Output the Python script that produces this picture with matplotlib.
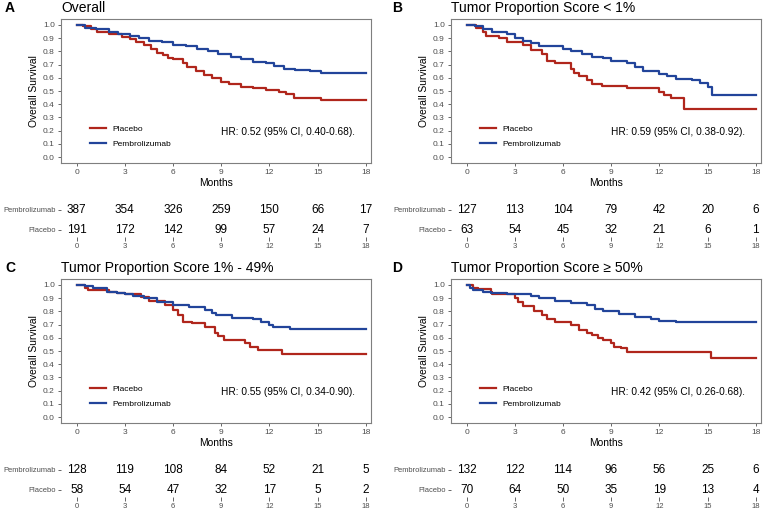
import numpy as np
import matplotlib
matplotlib.use("Agg")
import matplotlib.pyplot as plt

plt.rcParams['font.family'] = ['Liberation Sans', 'DejaVu Sans']

# --- data: (month, survival after drop) ---
titles = ["Overall", "Tumor Proportion Score < 1%",
          "Tumor Proportion Score 1% - 49%", "Tumor Proportion Score \u2265 50%"]
letters = ["A", "B", "C", "D"]
hr_texts = ["HR: 0.52 (95% CI, 0.40-0.68).", "HR: 0.59 (95% CI, 0.38-0.92).",
            "HR: 0.55 (95% CI, 0.34-0.90).", "HR: 0.42 (95% CI, 0.26-0.68)."]

placebo_a = [(0, 1.0), (0.4, 0.99), (0.9, 0.97), (1.3, 0.95), (2.0, 0.93), (2.8, 0.91),
             (3.3, 0.89), (3.7, 0.87), (4.2, 0.85), (4.6, 0.82), (5.0, 0.79), (5.4, 0.77),
             (5.7, 0.75), (6.0, 0.74), (6.6, 0.71), (6.9, 0.68), (7.4, 0.65), (7.9, 0.62),
             (8.4, 0.60), (9.0, 0.57), (9.5, 0.55), (10.2, 0.53), (11.0, 0.52), (11.8, 0.51),
             (12.6, 0.49), (13.0, 0.48), (13.5, 0.445), (15.2, 0.435), (18.0, 0.435)]
pembro_a = [(0, 1.0), (0.5, 0.98), (1.2, 0.97), (2.0, 0.95), (2.6, 0.93), (3.3, 0.92),
            (3.9, 0.90), (4.5, 0.88), (5.3, 0.87), (6.0, 0.85), (6.8, 0.84), (7.5, 0.82),
            (8.2, 0.80), (8.8, 0.78), (9.6, 0.76), (10.2, 0.74), (11.0, 0.72), (11.8, 0.71),
            (12.3, 0.69), (12.9, 0.67), (13.6, 0.66), (14.5, 0.65), (15.2, 0.635), (18.0, 0.635)]

placebo_b = [(0, 1.0), (0.6, 0.98), (1.0, 0.95), (1.2, 0.92), (2.0, 0.90), (2.5, 0.87),
             (3.5, 0.85), (4.0, 0.81), (4.7, 0.78), (5.0, 0.73), (5.5, 0.71), (6.5, 0.67),
             (6.7, 0.64), (7.0, 0.61), (7.5, 0.58), (7.8, 0.55), (8.4, 0.54), (10.0, 0.52),
             (12.0, 0.49), (12.3, 0.47), (12.7, 0.45), (13.5, 0.36), (18.0, 0.36)]
pembro_b = [(0, 1.0), (0.5, 0.99), (1.0, 0.97), (1.6, 0.95), (2.5, 0.93), (3.0, 0.90),
            (3.5, 0.88), (4.0, 0.86), (4.5, 0.84), (6.0, 0.82), (6.5, 0.80), (7.2, 0.78),
            (7.8, 0.76), (8.5, 0.75), (9.0, 0.73), (10.0, 0.71), (10.5, 0.68), (11.0, 0.65),
            (12.0, 0.63), (12.5, 0.61), (13.0, 0.59), (14.0, 0.58), (14.5, 0.56), (15.0, 0.53),
            (15.3, 0.47), (18.0, 0.47)]

placebo_c = [(0, 1.0), (0.5, 0.98), (0.7, 0.96), (2.0, 0.95), (2.5, 0.94), (3.0, 0.93),
             (4.0, 0.91), (4.5, 0.88), (5.5, 0.85), (6.0, 0.81), (6.3, 0.77), (6.6, 0.72),
             (7.2, 0.71), (8.0, 0.68), (8.6, 0.64), (8.8, 0.61), (9.2, 0.58), (10.5, 0.56),
             (10.8, 0.53), (11.3, 0.51), (12.8, 0.48), (18.0, 0.48)]
pembro_c = [(0, 1.0), (0.5, 0.99), (1.0, 0.98), (1.9, 0.95), (2.5, 0.94), (3.0, 0.93),
            (3.5, 0.92), (4.2, 0.90), (5.0, 0.87), (6.0, 0.85), (7.0, 0.83), (8.0, 0.81),
            (8.4, 0.79), (8.7, 0.77), (9.7, 0.75), (11.0, 0.74), (11.5, 0.72), (12.0, 0.70),
            (12.2, 0.68), (13.3, 0.67), (18.0, 0.67)]

placebo_d = [(0, 1.0), (0.4, 0.98), (0.7, 0.97), (1.5, 0.95), (1.6, 0.93), (3.0, 0.90),
             (3.2, 0.87), (3.5, 0.84), (4.2, 0.80), (4.7, 0.77), (5.0, 0.74), (5.5, 0.72),
             (6.5, 0.70), (7.0, 0.66), (7.5, 0.64), (7.8, 0.62), (8.2, 0.60), (8.5, 0.58),
             (9.0, 0.56), (9.2, 0.53), (9.6, 0.52), (10.0, 0.49), (15.2, 0.45), (18.0, 0.45)]
pembro_d = [(0, 1.0), (0.2, 0.98), (0.4, 0.96), (1.0, 0.95), (1.5, 0.94), (2.5, 0.93),
            (4.0, 0.92), (4.5, 0.90), (5.5, 0.88), (6.5, 0.86), (7.5, 0.85), (8.0, 0.82),
            (8.5, 0.80), (9.5, 0.78), (10.5, 0.76), (11.5, 0.74), (12.0, 0.73), (13.0, 0.72),
            (18.0, 0.72)]

placebo_curves = [placebo_a, placebo_b, placebo_c, placebo_d]
pembro_curves = [pembro_a, pembro_b, pembro_c, pembro_d]

risk_months = [0, 3, 6, 9, 12, 15, 18]
risk_pembro = [[387, 354, 326, 259, 150, 66, 17],
               [127, 113, 104, 79, 42, 20, 6],
               [128, 119, 108, 84, 52, 21, 5],
               [132, 122, 114, 96, 56, 25, 6]]
risk_placebo = [[191, 172, 142, 99, 57, 24, 7],
                [63, 54, 45, 32, 21, 6, 1],
                [58, 54, 47, 32, 17, 5, 2],
                [70, 64, 50, 35, 19, 13, 4]]

RED = '#B0261C'
BLUE = '#22449A'
GREY = '#4D4D4D'

W, H = 773, 512
fig = plt.figure(figsize=(W / 100, H / 100), dpi=100)


def px_axes(left, top, right, bottom):
    return fig.add_axes([left / W, 1 - bottom / H, (right - left) / W, (bottom - top) / H])


lefts = [61, 451, 61, 451]
tops = [0, 0, 260, 260]
width_px = 310
for i in range(4):
    L, T0 = lefts[i], tops[i]
    ax = px_axes(L, T0 + 19, L + width_px, T0 + 163)
    p = np.array(placebo_curves[i])
    b = np.array(pembro_curves[i])
    ax.step(p[:, 0], p[:, 1], where='post', color=RED, lw=1.6, label='Placebo')
    ax.step(b[:, 0], b[:, 1], where='post', color=BLUE, lw=1.6, label='Pembrolizumab')
    ax.set_xlim(-0.97, 18.32)
    ax.set_ylim(-0.045, 1.045)
    ax.set_xticks(risk_months)
    ax.set_yticks(np.round(np.arange(0, 1.01, 0.1), 1))
    ax.set_yticklabels([f"{v:.1f}" for v in np.arange(0, 1.01, 0.1)])
    ax.tick_params(labelsize=6, colors=GREY, length=2.5, width=0.6, pad=2)
    for s in ax.spines.values():
        s.set_color('#7F7F7F')
        s.set_linewidth(0.8)
    ax.set_xlabel('Months', fontsize=7.4, labelpad=1)
    ax.set_ylabel('Overall Survival', fontsize=7.4, labelpad=3)
    ax.text(9.0, 0.19, hr_texts[i], fontsize=7.3, va='center', ha='left')
    ax.legend(loc='center left', bbox_to_anchor=(0.07, 0.185), frameon=False,
              fontsize=6, handlelength=1.9, labelspacing=0.9, handletextpad=0.8)
    fig.text((L - 56) / W if i % 2 == 0 else (L - 59) / W, 1 - (T0 + 8) / H, letters[i],
             fontsize=10, fontweight='bold', va='center', ha='left')
    fig.text(L / W, 1 - (T0 + 8) / H, titles[i], fontsize=10, va='center', ha='left')

    # risk table
    rt = px_axes(L, T0 + 200, L + width_px, T0 + 237)
    rt.set_xlim(-0.97, 18.32)
    rt.set_ylim(-0.35, 1.5)
    for m, n1, n2 in zip(risk_months, risk_pembro[i], risk_placebo[i]):
        rt.text(m, 1, str(n1), ha='center', va='center', fontsize=8.5)
        rt.text(m, 0, str(n2), ha='center', va='center', fontsize=8.5)
    rt.set_yticks([1, 0])
    rt.set_yticklabels(['Pembrolizumab', 'Placebo'])
    rt.set_xticks(risk_months)
    for s in rt.spines.values():
        s.set_visible(False)
    rt.tick_params(axis='y', labelsize=5.4, length=2.5, width=0.6, pad=1.5, colors=GREY)
    rt.tick_params(axis='x', labelsize=5.5, length=3, width=0.6, pad=1.5, colors=GREY)
    rt.tick_params(axis='x', direction='out')

fig.savefig('out.png', dpi=100)
